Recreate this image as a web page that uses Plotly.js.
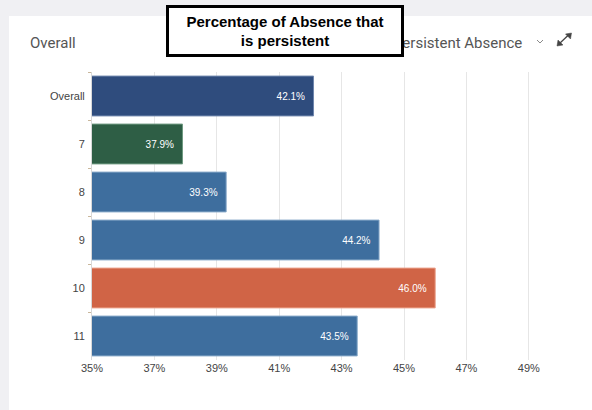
<!DOCTYPE html>
<html>
<head>
<meta charset="utf-8">
<script src="https://cdn.plot.ly/plotly-3.0.1.min.js"></script>
<style>
  html, body { margin: 0; padding: 0; background: #ffffff; }
  #chart { width: 592px; height: 410px; }
</style>
</head>
<body>
<div id="chart"></div>
<script>
// ---- data ----
var categories = ["Overall", "7", "8", "9", "10", "11"];
var values = [42.1, 37.9, 39.3, 44.2, 46.0, 43.5];
var barColors = ["#2f4c7d", "#2e5e45", "#3e6e9e", "#3e6e9e", "#d06446", "#3e6e9e"];
var lineColors = ["#6f86ad", "#6f9a80", "#86a8c8", "#86a8c8", "#eba08a", "#86a8c8"];
var xTickVals = [35, 37, 39, 41, 43, 45, 47, 49];
var xTickText = ["35%", "37%", "39%", "41%", "43%", "45%", "47%", "49%"];
var titleText = "Percentage of Absence that<br>is persistent";
var leftHeader = "Overall";
var rightHeader = "Persistent Absence";

// ---- pixel helpers (plot area 92..560 x, 72..360 y) ----
var L = 92, R = 560, T = 72, B = 360;
function px(x) { return (x - L) / (R - L); }
function py(y) { return (B - y) / (B - T); }

var trace = {
  type: "bar",
  orientation: "h",
  y: categories,
  x: values,
  base: 0,
  marker: { color: barColors, line: { color: lineColors, width: 1 } },
  texttemplate: "%{x:.1f}%\u00a0\u00a0",
  textposition: "inside",
  insidetextanchor: "end",
  textfont: { color: "#ffffff", size: 10, family: "Liberation Sans, Arial, sans-serif" },
  hoverinfo: "none",
  cliponaxis: true
};

var shapes = [
  // light grey page strip at top and left of the card
  { type: "rect", xref: "paper", yref: "paper", x0: px(0), x1: px(600), y0: py(16), y1: py(0),
    fillcolor: "#f0f0f3", line: { width: 0 }, layer: "below" },
  { type: "rect", xref: "paper", yref: "paper", x0: px(0), x1: px(9), y0: py(420), y1: py(0),
    fillcolor: "#f0f0f3", line: { width: 0 }, layer: "below" },
  // chevron
  { type: "path", xref: "paper", yref: "paper",
    path: "M " + px(537) + " " + py(40) + " L " + px(540) + " " + py(43) + " L " + px(543) + " " + py(40),
    line: { color: "#8a8a8a", width: 1 } },
  // expand icon
  { type: "line", xref: "paper", yref: "paper", x0: px(559.5), y0: py(43.5), x1: px(568.5), y1: py(35),
    line: { color: "#444444", width: 1.3 } },
  { type: "path", xref: "paper", yref: "paper",
    path: "M " + px(571.5) + " " + py(33) + " L " + px(565.5) + " " + py(34) + " L " + px(570.5) + " " + py(39) + " Z",
    fillcolor: "#444444", line: { color: "#444444", width: 0.5 } },
  { type: "path", xref: "paper", yref: "paper",
    path: "M " + px(557) + " " + py(46) + " L " + px(563) + " " + py(45) + " L " + px(558) + " " + py(40) + " Z",
    fillcolor: "#444444", line: { color: "#444444", width: 0.5 } }
];

var annotations = [
  { text: leftHeader, xref: "paper", yref: "paper", x: px(28), y: py(43),
    xanchor: "left", yanchor: "middle", showarrow: false,
    font: { family: "Roboto, Liberation Sans, sans-serif", size: 15, color: "#555555" } },
  { text: rightHeader, xref: "paper", yref: "paper", x: px(524), y: py(43),
    xanchor: "right", yanchor: "middle", showarrow: false,
    font: { family: "Roboto, Liberation Sans, sans-serif", size: 15, color: "#555555" } },
  { text: "<b>" + titleText + "</b>", xref: "paper", yref: "paper", x: px(285), y: py(31),
    xanchor: "center", yanchor: "middle", showarrow: false,
    width: 228, height: 42, align: "center",
    bgcolor: "#ffffff", bordercolor: "#000000", borderwidth: 3, borderpad: 2,
    font: { family: "Liberation Sans, Arial, sans-serif", size: 15, color: "#000000" } }
];

var layout = {
  width: 592, height: 410,
  margin: { l: L, r: 592 - R, t: T, b: 410 - B, pad: 0 },
  paper_bgcolor: "#ffffff",
  plot_bgcolor: "#ffffff",
  showlegend: false,
  bargap: 0.17,
  font: { family: "Liberation Sans, Arial, sans-serif", size: 11, color: "#444444" },
  xaxis: {
    range: [35, 50],
    tickvals: xTickVals,
    ticktext: xTickText,
    showgrid: true,
    gridcolor: "#e6e6e6",
    gridwidth: 1,
    zeroline: false,
    showline: false,
    ticks: "",
    tickfont: { size: 11, color: "#444444" },
    fixedrange: true
  },
  yaxis: {
    type: "category",
    autorange: "reversed",
    showgrid: false,
    zeroline: false,
    showline: true,
    linecolor: "#d8d8d8",
    linewidth: 1,
    ticks: "outside",
    tickson: "boundaries",
    ticklen: 3,
    tickcolor: "#c9b79c",
    tickfont: { size: 11, color: "#444444" },
    ticklabelstandoff: 4,
    fixedrange: true
  },
  shapes: shapes,
  annotations: annotations
};

Plotly.newPlot("chart", [trace], layout, { displayModeBar: false, staticPlot: true });
</script>
</body>
</html>
